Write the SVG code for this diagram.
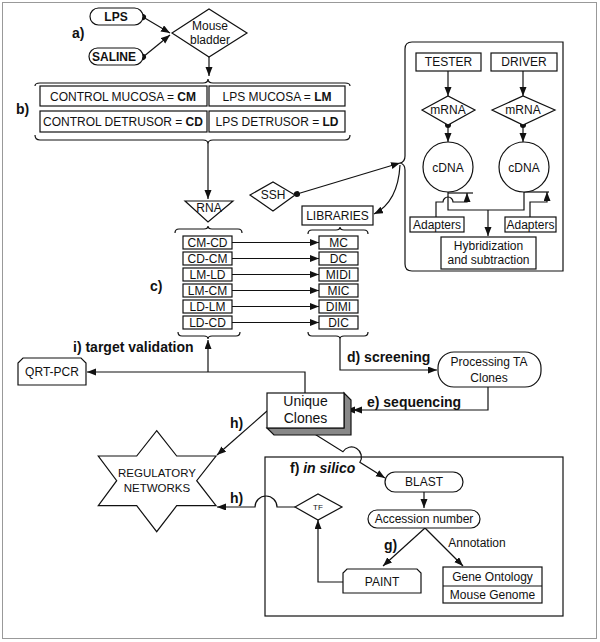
<svg xmlns="http://www.w3.org/2000/svg" width="600" height="642" viewBox="0 0 600 642">
<style>
text{font-family:"Liberation Sans",Arial,sans-serif;font-size:12px;fill:#111;text-anchor:middle}
.lb{font-size:14px;font-weight:bold;text-anchor:start}
.b{font-weight:bold}
.s{fill:#fff;stroke:#111;stroke-width:1.2}
.c{fill:none;stroke:#111;stroke-width:1.2}
</style>
<defs>
<marker id="arr" markerUnits="userSpaceOnUse" markerWidth="10" markerHeight="8" refX="9" refY="3.5" orient="auto"><path d="M0,0L9,3.5L0,7z" fill="#111"/></marker>
<marker id="dot" markerUnits="userSpaceOnUse" markerWidth="8" markerHeight="8" refX="4" refY="4" orient="auto"><circle cx="4" cy="4" r="3" fill="#111"/></marker>
</defs>
<rect x="2.5" y="2.5" width="594" height="636" fill="#fff" stroke="#999"/>

<g id="labels">
<text class="lb" x="72" y="38">a)</text>
<text class="lb" x="16" y="114">b)</text>
<text class="lb" x="150" y="291">c)</text>
<text class="lb" x="73" y="352">i) target validation</text>
<text class="lb" x="347" y="362">d) screening</text>
<text class="lb" x="367" y="407">e) sequencing</text>
<text class="lb" x="230" y="428">h)</text>
<text class="lb" x="230" y="503">h)</text>
<text class="lb" x="384" y="550">g)</text>
<text x="477" y="547">Annotation</text>
</g>

<g id="connectors">
<path class="c" d="M143,17L170,33" marker-start="url(#dot)" marker-end="url(#arr)"/>
<path class="c" d="M143,57L170,35" marker-start="url(#dot)" marker-end="url(#arr)"/>
<path class="c" d="M209,57L209,76" marker-end="url(#arr)"/>
<path class="c" d="M35,86Q35,83 40,83L203,83Q208,83 208,79Q208,83 213,83L345,83Q350,83 350,86"/>
<path class="c" d="M35,135Q35,140 40,140L203,140Q208,140 208,144Q208,140 213,140L345,140Q350,140 350,135"/>
<path class="c" d="M208,144L208,199" marker-end="url(#arr)"/>
<path class="c" d="M175,233Q175,229 179,229L204,229Q208,229 208,226Q208,229 212,229L238,229Q242,229 242,233"/>
<path class="c" d="M178,332Q178,336 182,336L204,336Q208,336 208,339Q208,336 212,336L236,336Q240,336 240,332"/>
<path class="c" d="M308,234Q308,230 312,230L336,230Q340,230 340,227Q340,230 344,230L364,230Q368,230 368,234"/>
<path class="c" d="M308,332Q308,336 312,336L336,336Q340,336 340,339Q340,336 344,336L364,336Q368,336 368,332"/>
<path class="c" d="M232,242.5L319,242.5" marker-end="url(#arr)"/>
<path class="c" d="M232,258.5L319,258.5" marker-end="url(#arr)"/>
<path class="c" d="M232,274.5L319,274.5" marker-end="url(#arr)"/>
<path class="c" d="M232,290.5L319,290.5" marker-end="url(#arr)"/>
<path class="c" d="M232,306.5L319,306.5" marker-end="url(#arr)"/>
<path class="c" d="M232,322.5L319,322.5" marker-end="url(#arr)"/>
<path class="c" d="M297,194L400,163" marker-start="url(#dot)" marker-end="url(#arr)"/>
<path class="c" d="M400,165Q398,202 374,214" marker-end="url(#arr)"/>
<path class="c" d="M340,339L340,370L437,370" marker-end="url(#arr)"/>
<path class="c" d="M488,387L488,410L346,410" marker-end="url(#arr)"/>
<path d="M353,406.5L362,410L353,413.5z" fill="#111" transform="rotate(180 357.5 410)"/>
<path class="c" d="M305,393L305,372L87,372" marker-end="url(#arr)"/>
<path class="c" d="M208,372L208,340" marker-end="url(#arr)"/>
<path class="c" d="M267,411L217,455" marker-end="url(#arr)"/>
<path class="c" d="M305,428L342.9,451.7A10,10 0 0 1 359.9,462.3L385,478" marker-end="url(#arr)"/>
<path class="c" d="M295,507L277,507A11,11 0 0 0 255,507L217,507" marker-end="url(#arr)"/>
<path class="c" d="M424,492L424,508" marker-end="url(#arr)"/>
<path class="c" d="M425,528L383,566" marker-end="url(#arr)"/>
<path class="c" d="M425,528L463,566" marker-end="url(#arr)"/>
<path class="c" d="M343,582L318,582L318,520" marker-end="url(#arr)"/>
<path class="c" d="M448,71L448,96" marker-end="url(#arr)"/>
<path class="c" d="M523,71L523,96" marker-end="url(#arr)"/>
<path class="c" d="M448,125L448,142" marker-start="url(#dot)" marker-end="url(#arr)"/>
<path class="c" d="M523,125L523,142" marker-start="url(#dot)" marker-end="url(#arr)"/>
<path class="c" d="M448,192L448,210L524,210L524,192"/>
<path class="c" d="M448,193L473,193"/>
<path class="c" d="M524,192L549,192"/>
<path class="c" d="M488,210L488,236" marker-end="url(#arr)"/>
<path class="c" d="M436,217L436,202L443,202A5,5 0 0 1 453,202L467,202L467,193" marker-end="url(#arr)"/>
<path class="c" d="M530,217L530,202L547,202L547,192" marker-end="url(#arr)"/>
</g>

<g id="lps"><rect class="s" x="90" y="8" width="53" height="17" rx="8.5"/><text class="b" x="116" y="21">LPS</text></g>
<g id="saline"><rect class="s" x="89" y="48" width="54" height="17" rx="8.5"/><text class="b" x="114" y="61">SALINE</text></g>
<g id="mouse"><polygon class="s" points="172,33 209,9 247,33 209,57"/><text x="210" y="30">Mouse</text><text x="210" y="44">bladder</text></g>

<g id="samples">
<rect class="s" x="40" y="86" width="167" height="20"/><text x="123" y="101">CONTROL MUCOSA = <tspan class="b">CM</tspan></text>
<rect class="s" x="209" y="86" width="136" height="20"/><text x="277" y="101">LPS MUCOSA = <tspan class="b">LM</tspan></text>
<rect class="s" x="40" y="111" width="167" height="21"/><text x="123" y="126">CONTROL DETRUSOR = <tspan class="b">CD</tspan></text>
<rect class="s" x="209" y="111" width="136" height="21"/><text x="277" y="126">LPS DETRUSOR = <tspan class="b">LD</tspan></text>
</g>

<g id="rna"><polygon class="s" points="185,201 233,201 208,222"/><text x="209" y="212">RNA</text></g>

<g id="pairs">
<rect class="s" x="183" y="236" width="49" height="13"/><text x="207.5" y="247">CM-CD</text>
<rect class="s" x="183" y="252" width="49" height="13"/><text x="207.5" y="263">CD-CM</text>
<rect class="s" x="183" y="268" width="49" height="13"/><text x="207.5" y="279">LM-LD</text>
<rect class="s" x="183" y="284" width="49" height="13"/><text x="207.5" y="295">LM-CM</text>
<rect class="s" x="183" y="300" width="49" height="13"/><text x="207.5" y="311">LD-LM</text>
<rect class="s" x="183" y="316" width="49" height="13"/><text x="207.5" y="327">LD-CD</text>
</g>

<g id="libs">
<rect class="s" x="319" y="236" width="39" height="13"/><text x="338.5" y="247">MC</text>
<rect class="s" x="319" y="252" width="39" height="13"/><text x="338.5" y="263">DC</text>
<rect class="s" x="319" y="268" width="39" height="13"/><text x="338.5" y="279">MIDI</text>
<rect class="s" x="319" y="284" width="39" height="13"/><text x="338.5" y="295">MIC</text>
<rect class="s" x="319" y="300" width="39" height="13"/><text x="338.5" y="311">DIMI</text>
<rect class="s" x="319" y="316" width="39" height="13"/><text x="338.5" y="327">DIC</text>
</g>

<g id="libraries"><rect class="s" x="302" y="206" width="71" height="19"/><text x="337.5" y="220">LIBRARIES</text></g>
<g id="ssh"><polygon class="s" points="250,195 273,182 295,195 273,211"/><text x="273" y="199">SSH</text></g>

<g id="ssh-group">
<path class="c" d="M563,42L412,42Q405,42 405,49L405,156Q405,162 400,163Q405,164 405,170L405,264Q405,271 412,271L563,271Z"/>
<rect class="s" x="416" y="53" width="65" height="18"/><text x="448.5" y="66">TESTER</text>
<rect class="s" x="491" y="53" width="66" height="18"/><text x="524" y="66">DRIVER</text>
<polygon class="s" points="422,110 448,96 475,110 448,125"/><text x="448" y="114">mRNA</text>
<polygon class="s" points="492,110 523,96 555,110 523,125"/><text x="523" y="114">mRNA</text>
<circle class="s" cx="448" cy="167" r="25"/><text x="448" y="172">cDNA</text>
<circle class="s" cx="524" cy="167" r="25"/><text x="524" y="172">cDNA</text>
<rect class="s" x="410" y="217" width="54" height="15"/><text x="437" y="229">Adapters</text>
<rect class="s" x="505" y="217" width="51" height="15"/><text x="530.5" y="229">Adapters</text>
<rect class="s" x="441" y="237" width="95" height="32"/><text x="488.5" y="250">Hybridization</text><text x="488.5" y="264">and subtraction</text>
</g>

<g id="qrt"><polygon class="s" points="18,385 18,363 23,358 81,358 86,363 86,385"/><text x="52" y="376">QRT-PCR</text></g>
<g id="processing"><rect class="s" x="438" y="352" width="103" height="35" rx="16"/><text x="489" y="366">Processing TA</text><text x="489" y="382">Clones</text></g>

<g id="unique">
<polygon points="344,393 351,400 351,435 274,435 267,428 344,428" fill="#888" stroke="#111" stroke-width="1.2"/>
<rect class="s" x="267" y="393" width="77" height="35"/>
<text x="305.5" y="406" style="font-size:14px">Unique</text><text x="305.5" y="423" style="font-size:14px">Clones</text>
</g>

<g id="regulatory">
<polygon class="s" points="156.7,430.7 176.7,456 216,456 196.7,480.7 216,505.7 176.7,505.7 156.7,531.7 136.7,505.7 98.3,505.7 116.7,480.7 98.3,456 136.7,456"/>
<text x="157" y="477" style="font-size:11.5px">REGULATORY</text><text x="157" y="492" style="font-size:11.5px">NETWORKS</text>
</g>

<g id="insilico">
<rect x="265" y="457" width="298" height="159" fill="none" stroke="#111" stroke-width="1.2"/>
<text class="lb" x="290" y="473">f) <tspan font-style="italic">in silico</tspan></text>
</g>
<g id="blast"><rect class="s" x="385" y="472" width="78" height="20" rx="10"/><text x="424" y="486">BLAST</text></g>
<g id="accession"><rect class="s" x="368" y="510" width="112" height="18" rx="9"/><text x="424" y="523">Accession number</text></g>
<g id="tf"><polygon class="s" points="295,507 318,494 342,507 318,520"/><text x="318" y="510" style="font-size:8px">TF</text></g>
<g id="paint"><polygon class="s" points="343,593 343,573 347,569 417,569 421,573 421,593"/><text x="382" y="586">PAINT</text></g>
<g id="go">
<rect class="s" x="443" y="567" width="99" height="36"/><line x1="443" y1="586" x2="542" y2="586" stroke="#111" stroke-width="1.2"/>
<text x="492.5" y="581">Gene Ontology</text><text x="492.5" y="599">Mouse Genome</text>
</g>
</svg>
